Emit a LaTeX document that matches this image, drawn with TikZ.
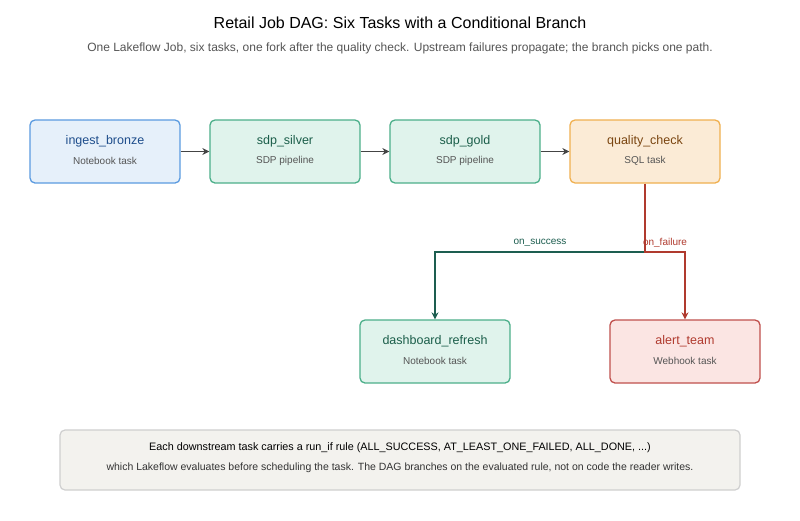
\documentclass[tikz,border=0pt]{standalone}
\usepackage{fontspec}
\setmainfont{Liberation Sans}
\usetikzlibrary{arrows.meta}
\definecolor{bluefill}{HTML}{E6F0FA}
\definecolor{blueedge}{HTML}{5B9BE0}
\definecolor{bluetext}{HTML}{1F4E8C}
\definecolor{greenfill}{HTML}{E0F3EC}
\definecolor{greenedge}{HTML}{4CAF8A}
\definecolor{greentext}{HTML}{1B5E4A}
\definecolor{orangefill}{HTML}{FBEBD6}
\definecolor{orangeedge}{HTML}{F0B050}
\definecolor{orangetext}{HTML}{7A4510}
\definecolor{redfill}{HTML}{FBE5E3}
\definecolor{rededge}{HTML}{C0504D}
\definecolor{redtext}{HTML}{B03A2E}
\definecolor{notefill}{HTML}{F3F2EE}
\definecolor{noteedge}{HTML}{CFCFCF}
\definecolor{arrowgray}{HTML}{444444}
\definecolor{subgray}{HTML}{555555}
\definecolor{succline}{HTML}{1D5E50}
\definecolor{failline}{HTML}{B03A2E}
\tikzset{
  task/.style={draw, line width=1.3pt, rounded corners=5pt, minimum width=150pt, minimum height=63pt, inner sep=0pt},
  bluebox/.style={task, fill=bluefill, draw=blueedge},
  greenbox/.style={task, fill=greenfill, draw=greenedge},
  orangebox/.style={task, fill=orangefill, draw=orangeedge},
  redbox/.style={task, fill=redfill, draw=rededge},
  ttl/.style={font=\fontsize{12.5}{15}\selectfont},
  sub/.style={font=\fontsize{10}{12}\selectfont, text=subgray},
  flow/.style={draw=arrowgray, line width=1.8pt, -{Stealth[length=7pt,width=7pt]}},
  succ/.style={draw=succline, line width=1.8pt, -{Stealth[length=7pt,width=7pt]}},
  fail/.style={draw=failline, line width=1.8pt, -{Stealth[length=7pt,width=7pt]}},
  lbl/.style={font=\fontsize{10}{12}\selectfont}
}
\begin{document}
\begin{tikzpicture}[x=1pt,y=-1pt]
\useasboundingbox (0,0) rectangle (800,520);
\fill[white] (0,0) rectangle (800,520);
\node[font=\fontsize{16}{19}\selectfont] (title) at (400,23) {Retail Job DAG: Six Tasks with a Conditional Branch};
\node[font=\fontsize{12}{14}\selectfont, text=subgray] (subtitle) at (400,48) {One Lakeflow Job, six tasks, one fork after the quality check. Upstream failures propagate; the branch picks one path.};

\node[bluebox] (ingest) at (105,151.5) {};
\node[ttl, text=bluetext] (ingestT) at (105,141) {ingest\_bronze};
\node[sub] (ingestS) at (105,160.5) {Notebook task};

\node[greenbox] (silver) at (285,151.5) {};
\node[ttl, text=greentext] (silverT) at (285,141) {sdp\_silver};
\node[sub] (silverS) at (285,160.5) {SDP pipeline};

\node[greenbox] (gold) at (465,151.5) {};
\node[ttl, text=greentext] (goldT) at (465,141) {sdp\_gold};
\node[sub] (goldS) at (465,160.5) {SDP pipeline};

\node[orangebox] (qc) at (645,151.5) {};
\node[ttl, text=orangetext] (qcT) at (645,141) {quality\_check};
\node[sub] (qcS) at (645,160.5) {SQL task};

\node[greenbox] (dash) at (435,351.5) {};
\node[ttl, text=greentext] (dashT) at (435,341) {dashboard\_refresh};
\node[sub] (dashS) at (435,360.5) {Notebook task};

\node[redbox] (alert) at (685,351.5) {};
\node[ttl, text=redtext] (alertT) at (685,341) {alert\_team};
\node[sub] (alertS) at (685,360.5) {Webhook task};

\draw[flow] (ingest.east) -- (silver.west);
\draw[flow] (silver.east) -- (gold.west);
\draw[flow] (gold.east) -- (qc.west);

\coordinate (fork) at (645,252);
\draw[succ] (fork) -| (dash.north);
\draw[fail] (qc.south) -- (fork) -| (alert.north);

\node[lbl, text=succline] (ls) at (540,243) {on\_success};
\node[lbl, text=failline] (lf) at (665,243) {on\_failure};

\node[draw=noteedge, fill=notefill, line width=1.2pt, rounded corners=5pt, minimum width=680pt, minimum height=60pt] (note) at (400,460) {};
\node[font=\fontsize{10.8}{13}\selectfont] (n1) at (400,448) {Each downstream task carries a run\_if rule (ALL\_SUCCESS, AT\_LEAST\_ONE\_FAILED, ALL\_DONE, ...)};
\node[font=\fontsize{10.5}{13}\selectfont, text=black!80] (n2) at (400,468) {which Lakeflow evaluates before scheduling the task. The DAG branches on the evaluated rule, not on code the reader writes.};
\end{tikzpicture}
\end{document}
